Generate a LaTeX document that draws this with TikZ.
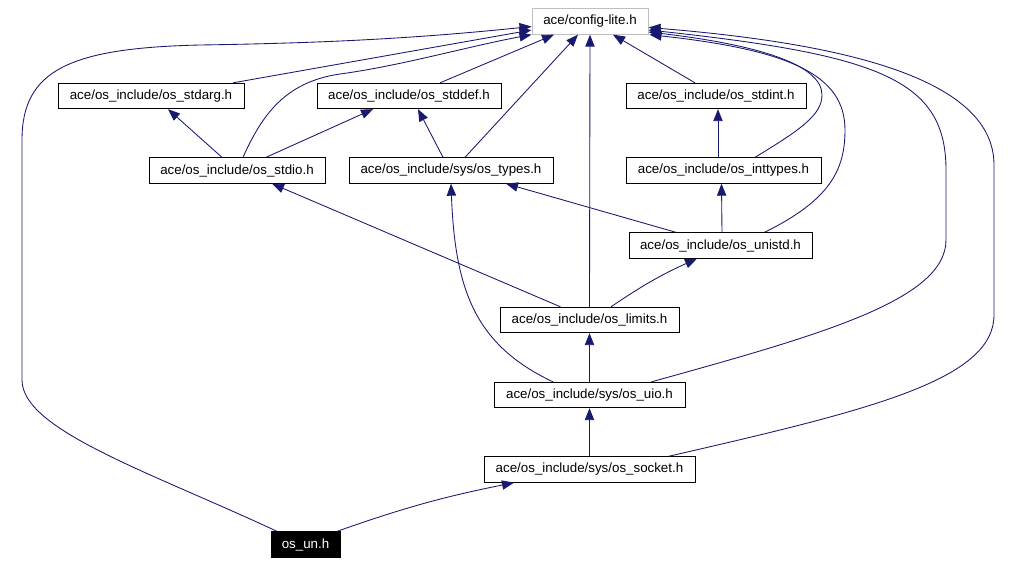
\documentclass[tikz,border=0pt]{standalone}
\usepackage{fontspec}
\setmainfont{Liberation Sans}
\usepackage{xcolor}
\usepackage{tikz}
\usetikzlibrary{calc,arrows.meta}
\definecolor{edgeblue}{RGB}{25,25,112}
\definecolor{boxgray}{RGB}{191,191,191}
\tikzstyle{hdr} = [draw=black,line width=0.75pt,fill=white,inner sep=0pt,minimum height=19pt,font=\fontsize{10}{12}\selectfont]
\tikzstyle{dep} = [edgeblue,line width=0.65pt,-{Triangle[length=9pt,width=7pt]}]

\begin{document}
\begin{tikzpicture}[x=0.75pt,y=-0.75pt]
          \useasboundingbox (0,0) rectangle (1015,564);
          % headers
          \node[hdr,draw=boxgray,minimum width=87pt] (config) at (590,21.5) {ace/config-lite.h};
          \node[hdr,minimum width=139.5pt] (stdarg) at (151,96) {ace/os\_include/os\_stdarg.h};
          \node[hdr,minimum width=138pt] (stddef) at (409,96) {ace/os\_include/os\_stddef.h};
          \node[hdr,minimum width=135pt] (stdint) at (716,96) {ace/os\_include/os\_stdint.h};
          \node[hdr,minimum width=132pt] (stdio) at (237,170.5) {ace/os\_include/os\_stdio.h};
          \node[hdr,minimum width=153pt] (types) at (451,170.5) {ace/os\_include/sys/os\_types.h};
          \node[hdr,minimum width=146.25pt] (inttypes) at (723.5,170.5) {ace/os\_include/os\_inttypes.h};
          \node[hdr,minimum width=137.25pt] (unistd) at (720.5,245.5) {ace/os\_include/os\_unistd.h};
          \node[hdr,minimum width=134.25pt] (limits) at (589.5,320) {ace/os\_include/os\_limits.h};
          \node[hdr,minimum width=143.25pt] (uio) at (589.5,395) {ace/os\_include/sys/os\_uio.h};
          \node[hdr,minimum width=158.25pt] (socket) at (589.5,469.5) {ace/os\_include/sys/os\_socket.h};
          \node[hdr,fill=black,text=white,minimum width=51.75pt] (osun) at (305.5,544.5) {os\_un.h};

          % short includes
          \draw[dep] (socket) -- (uio);
          \draw[dep] (uio) -- (limits);
          \draw[dep] (limits.north) -- (config.south);
          \draw[dep] ($(osun.north)+(31.5,0)$) to[bend left=4] ($(socket.south)+(-75.5,0)$);
          \draw[dep] ($(limits.north)+(-29,0)$) -- ($(stdio.south)+(35,0)$);
          \draw[dep] ($(limits.north)+(21.5,0)$) to[bend left=5] ($(unistd.south)+(-23.5,0)$);
          \draw[dep] ($(unistd.north)+(1.5,0)$) -- ($(inttypes.south)+(-2,0)$);
          \draw[dep] ($(unistd.north)+(-44.5,0)$) -- ($(types.south)+(55,0)$);
          \draw[dep] ($(inttypes.north)+(-5.5,0)$) -- ($(stdint.south)+(2,0)$);
          \draw[dep] ($(stdint.north)+(-21,0)$) -- ($(config.south)+(23,0)$);
          \draw[dep] ($(types.north)+(-8,0)$) -- ($(stddef.south)+(9,0)$);
          \draw[dep] ($(types.north)+(14,0)$) -- ($(config.south)+(-12,0)$);
          \draw[dep] ($(stdio.north)+(-15,0)$) -- ($(stdarg.south)+(17,0)$);
          \draw[dep] ($(stdio.north)+(29,0)$) -- ($(stddef.south)+(-36,0)$);
          \draw[dep] ($(stdarg.north)+(82,0)$) -- ($(config.west)+(0,8.5)$);
          \draw[dep] ($(stddef.north)+(31,0)$) -- ($(config.south)+(-36,0)$);

          % long includes round the sides
          \draw[dep] ($(osun.north)+(-28.5,0)$) .. controls (150,472) and (22,430) .. (22,380) -- (22,140)
            .. controls (22,70) and (70,48) .. (200,45) .. controls (330,43) and (420,38) .. ($(config.west)+(0,5)$);
          \draw[dep] ($(stdio.north)+(6,0)$) .. controls (262,115) and (285,82) .. (340,74)
            .. controls (400,66) and (470,46) .. (config.south west);
          \draw[dep] ($(uio.north)+(-36.5,0)$) .. controls (475,345) and (455,290) .. (types.south);
          \draw[dep] ($(socket.north)+(79,0)$) .. controls (870,410) and (994,380) .. (994,315) -- (994,165)
            .. controls (994,80) and (850,44) .. ($(config.east)+(0,6)$);
          \draw[dep] ($(uio.north)+(62,0)$) .. controls (820,335) and (946,300) .. (946,240) -- (946,170)
            .. controls (946,80) and (880,55) .. ($(config.east)+(0,8.5)$);
          \draw[dep] ($(unistd.north)+(44,0)$) .. controls (830,200) and (845,170) .. (845,130)
            .. controls (845,75) and (790,50) .. ($(config.south east)+(1,0)$);
          \draw[dep] ($(inttypes.north)+(31.5,0)$) .. controls (800,130) and (822,115) .. (822,95)
            .. controls (822,65) and (760,45) .. ($(config.east)+(0,10.5)$);
\end{tikzpicture}
\end{document}
